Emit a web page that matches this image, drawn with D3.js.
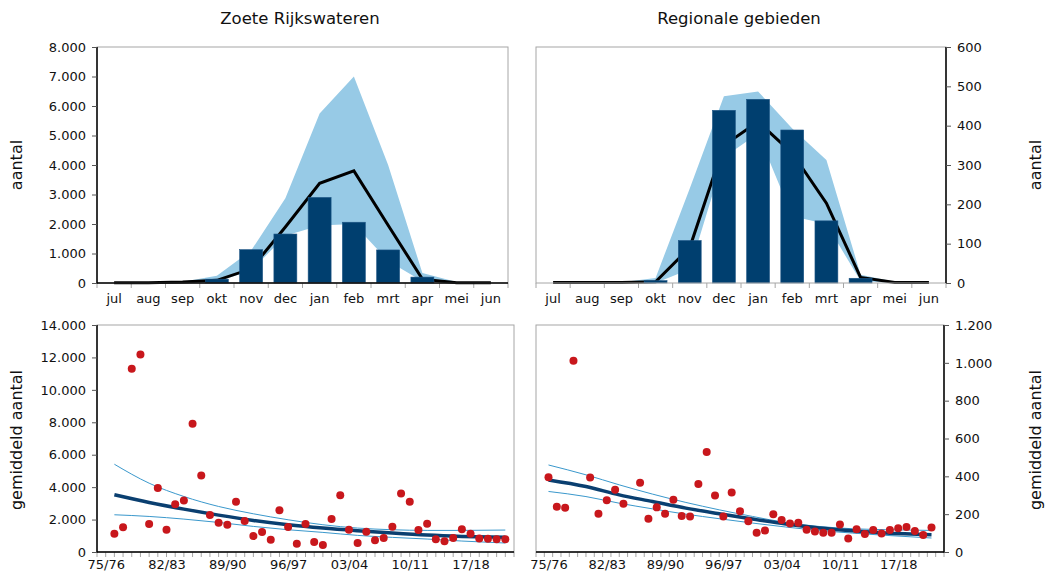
<!DOCTYPE html>
<html><head><meta charset="utf-8">
<script src="https://cdn.jsdelivr.net/npm/d3@7"></script>
<style>
body{margin:0;background:#fff;}
svg text{font-family:"DejaVu Sans",Verdana,sans-serif;fill:#111;}
</style></head><body>
<svg id="c" width="1052" height="579"></svg>
<script>
// ---------- data ----------
const months = ["jul","aug","sep","okt","nov","dec","jan","feb","mrt","apr","mei","jun"];

// Zoete Rijkswateren – seasonal pattern
const rwBars  = [0,0,0,130,1130,1660,2900,2060,1120,200,0,0];
const rwMean  = [10,10,30,90,480,1900,3380,3800,1960,130,10,10];
const rwUpper = [10,15,40,250,1100,2870,5750,7000,4000,340,30,10];
const rwLower = [0,0,10,40,420,1600,1950,2000,750,60,0,0];

// Regionale gebieden – seasonal pattern
const rgBars  = [0,0,0,6,108,439,467,389,158,12,0,0];
const rgMean  = [1,1,1,3,90,350,410,330,203,14,1,1];
const rgUpper = [1,1,2,13,240,475,487,393,313,21,3,1];
const rgLower = [0,0,0,0,35,320,380,170,150,5,0,0];

// Zoete Rijkswateren – yearly mean (season start year)
const rwSeasons = [1976,1977,1978,1979,1980,1981,1982,1983,1984,1985,1986,1987,1988,1989,1990,1991,1992,1993,1994,1995,1996,1997,1998,1999,2000,2001,2002,2003,2004,2005,2006,2007,2008,2009,2010,2011,2012,2013,2014,2015,2016,2017,2018,2019,2020,2021];
const rwAvg = [1130,1520,11300,12180,1720,3940,1370,2950,3180,7910,4720,2280,1800,1680,3100,1910,980,1230,760,2580,1540,510,1720,620,430,2030,3500,1370,550,1250,720,860,1560,3610,3100,1350,1740,780,660,860,1410,1130,840,820,780,780];
const rwTrendYears = [1976,1980,1984,1988,1992,1996,2000,2004,2008,2012,2016,2021];
const rwTrend   = [3526,3054,2644,2275,1947,1681,1476,1312,1168,1045,963,902];
const rwTrendHi = [5412,4243,3423,2808,2357,1988,1681,1476,1373,1332,1332,1353];
const rwTrendLo = [2296,2193,2029,1824,1578,1373,1209,1025,902,799,676,553];

// Regionale gebieden – yearly mean
const rgSeasons = [1975,1976,1977,1978,1980,1981,1982,1983,1984,1986,1987,1988,1989,1990,1991,1992,1993,1994,1995,1996,1997,1998,1999,2000,2001,2002,2003,2004,2005,2006,2007,2008,2009,2010,2011,2012,2013,2014,2015,2016,2017,2018,2019,2020,2021];
const rgAvg = [395,239,234,1011,394,202,274,329,255,366,176,236,202,276,190,188,359,529,299,188,315,216,162,102,114,200,169,151,155,118,109,102,102,146,72,120,95,116,98,116,125,132,111,90,130];
const rgTrendYears = [1975,1979.5,1983.5,1987.5,1991.5,1995.5,1999.5,2003.5,2007.5,2011.5,2015.5,2021];
const rgTrend   = [381,346,302,267,232,202,174,148,127,112,100,91];
const rgTrendHi = [460,408,355,306,262,223,188,156,135,123,118,114];
const rgTrendLo = [320,293,258,228,200,176,153,132,114,100,88,74];

const seasonTickYears  = [1975,1982,1989,1996,2003,2010,2017];
const seasonTickLabels = ["75/76","82/83","89/90","96/97","03/04","10/11","17/18"];
const rwMonthTicks = [0,1000,2000,3000,4000,5000,6000,7000,8000];
const rgMonthTicks = [0,100,200,300,400,500,600];
const rwYearTicks  = [0,2000,4000,6000,8000,10000,12000,14000];
const rgYearTicks  = [0,200,400,600,800,1000,1200];

// ---------- styles ----------
const C = {bar:"#003f6f", band:"#97cae6", mean:"#000", frame:"#a6a6a6", dot:"#c8171c",
           trend:"#0a3f70", thin:"#3a98cc", tick:"#a6a6a6"};
const nl = d3.formatLocale({decimal:",", thousands:".", grouping:[3], currency:["€",""]});
const fmt = nl.format(",.0f");

const svg = d3.select("#c");

function frame(g, x0, x1, y0, y1, side, bottomBlack){
  g.append("rect").attr("x",x0).attr("y",y0).attr("width",x1-x0).attr("height",y1-y0)
    .attr("fill","none").attr("stroke",C.frame).attr("stroke-width",1);
  const ax = side==="left" ? x0 : x1;
  g.append("line").attr("x1",ax).attr("x2",ax).attr("y1",y0).attr("y2",y1+ (bottomBlack?0.5:0))
    .attr("stroke","#000").attr("stroke-width",1.5);
  if(bottomBlack) g.append("line").attr("x1",x0).attr("x2",x1).attr("y1",y1).attr("y2",y1)
    .attr("stroke","#000").attr("stroke-width",1.5);
}

function yAxis(g, y, ticks, side, x0, x1){
  const ax = side==="left" ? d3.axisLeft(y) : d3.axisRight(y);
  const a = g.append("g").attr("transform",`translate(${side==="left"?x0:x1},0)`)
    .call(ax.tickValues(ticks).tickFormat(fmt).tickSize(5).tickPadding(6));
  a.select(".domain").remove();
  a.selectAll(".tick line").attr("stroke","#555");
  a.selectAll("text").style("font-size","13px").attr("fill","#111");
}

function monthPanel(opt){
  const {x0,x1,y0,y1,yMax,ticks,side,bottomBlack,bars,mean,upper,lower} = opt;
  const g = svg.append("g");
  const xb = d3.scaleBand().domain(months).range([x0,x1]).paddingInner(0.33).paddingOuter(0.165);
  const xi = d3.scaleLinear().domain([0,12]).range([x0,x1]);
  const cx = m => xb(m) + xb.bandwidth()/2;
  const y = d3.scaleLinear().domain([0,yMax]).range([y1,y0]);

  // month boundary ticks
  g.selectAll(".mt").data(d3.range(13)).join("line")
    .attr("x1",d=>xi(d)).attr("x2",d=>xi(d)).attr("y1",y1).attr("y2",y1+5)
    .attr("stroke",C.tick);

  const area = d3.area().x((d,i)=>cx(months[i])).y0((d,i)=>y(lower[i])).y1(d=>y(d));
  g.append("path").datum(upper).attr("d",area).attr("fill",C.band);

  const line = d3.line().x((d,i)=>cx(months[i])).y(d=>y(d));
  g.append("path").datum(mean).attr("d",line).attr("fill","none").attr("stroke",C.mean)
    .attr("stroke-width",3).attr("stroke-linejoin","miter");

  g.selectAll(".bar").data(bars).join("rect")
    .attr("x",(d,i)=>xb(months[i])).attr("width",xb.bandwidth())
    .attr("y",d=>y(d)).attr("height",d=>y(0)-y(d))
    .attr("fill",C.bar).attr("stroke","#1d5585").attr("stroke-width",0.6);

  frame(g,x0,x1,y0,y1,side,bottomBlack);
  yAxis(g,y,ticks,side,x0,x1);

  const xa = g.append("g").attr("transform",`translate(0,${y1})`)
    .call(d3.axisBottom(xb).tickSize(0).tickPadding(11));
  xa.select(".domain").remove();
  xa.selectAll("text").style("font-size","13px").attr("fill","#111");
}

function yearPanel(opt){
  const {x0,x1,y0,y1,dom,yMax,ticks,side,minorTicks,seasons,avg,ty,tr,thi,tlo} = opt;
  const g = svg.append("g");
  const x = d3.scaleLinear().domain(dom).range([x0,x1]);
  const y = d3.scaleLinear().domain([0,yMax]).range([y1,y0]);

  g.selectAll(".mt").data(minorTicks).join("line")
    .attr("x1",d=>x(d)).attr("x2",d=>x(d)).attr("y1",y1).attr("y2",y1+5)
    .attr("stroke",C.tick);

  const ln = arr => d3.line().curve(d3.curveMonotoneX).x((d,i)=>x(ty[i])).y(d=>y(d))(arr);
  g.append("path").attr("d",ln(thi)).attr("fill","none").attr("stroke",C.thin).attr("stroke-width",1);
  g.append("path").attr("d",ln(tlo)).attr("fill","none").attr("stroke",C.thin).attr("stroke-width",1);
  g.append("path").attr("d",ln(tr)).attr("fill","none").attr("stroke",C.trend).attr("stroke-width",3.5);

  g.selectAll(".dot").data(avg).join("circle")
    .attr("cx",(d,i)=>x(seasons[i])).attr("cy",d=>y(d)).attr("r",4).attr("fill",C.dot);

  frame(g,x0,x1,y0,y1,side,true);
  yAxis(g,y,ticks,side,x0,x1);

  const xa = g.append("g").attr("transform",`translate(0,${y1})`)
    .call(d3.axisBottom(x).tickValues(seasonTickYears).tickFormat((d,i)=>seasonTickLabels[i]).tickSize(0).tickPadding(8));
  xa.select(".domain").remove();
  xa.selectAll("text").style("font-size","13px").attr("fill","#111");
}

monthPanel({x0:97,x1:508,y0:47,y1:283,yMax:8000,ticks:rwMonthTicks,side:"left",bottomBlack:true,
  bars:rwBars,mean:rwMean,upper:rwUpper,lower:rwLower});
monthPanel({x0:536,x1:946,y0:47,y1:283,yMax:600,ticks:rgMonthTicks,side:"right",bottomBlack:false,
  bars:rgBars,mean:rgMean,upper:rgUpper,lower:rgLower});

yearPanel({x0:97,x1:514,y0:325,y1:552,dom:[1974,2022],yMax:14000,ticks:rwYearTicks,side:"left",
  minorTicks:d3.range(1974,2023),seasons:rwSeasons,avg:rwAvg,ty:rwTrendYears,tr:rwTrend,thi:rwTrendHi,tlo:rwTrendLo});
yearPanel({x0:536,x1:944,y0:325,y1:552,dom:[1973.5,2022.5],yMax:1200,ticks:rgYearTicks,side:"right",
  minorTicks:d3.range(1973.5,2023,1),seasons:rgSeasons,avg:rgAvg,ty:rgTrendYears,tr:rgTrend,thi:rgTrendHi,tlo:rgTrendLo});

// titles
svg.append("text").attr("x",300).attr("y",24).attr("text-anchor","middle").style("font-size","16.5px").text("Zoete Rijkswateren");
svg.append("text").attr("x",739).attr("y",24).attr("text-anchor","middle").style("font-size","16.5px").text("Regionale gebieden");

// axis titles
function vTitle(x,y,t){
  svg.append("text").attr("transform",`translate(${x},${y}) rotate(-90)`).attr("text-anchor","middle")
    .style("font-size","16px").text(t);
}
vTitle(22,165,"aantal");
vTitle(1041,165,"aantal");
vTitle(22,440,"gemiddeld aantal");
vTitle(1041,440,"gemiddeld aantal");
</script>
</body></html>
